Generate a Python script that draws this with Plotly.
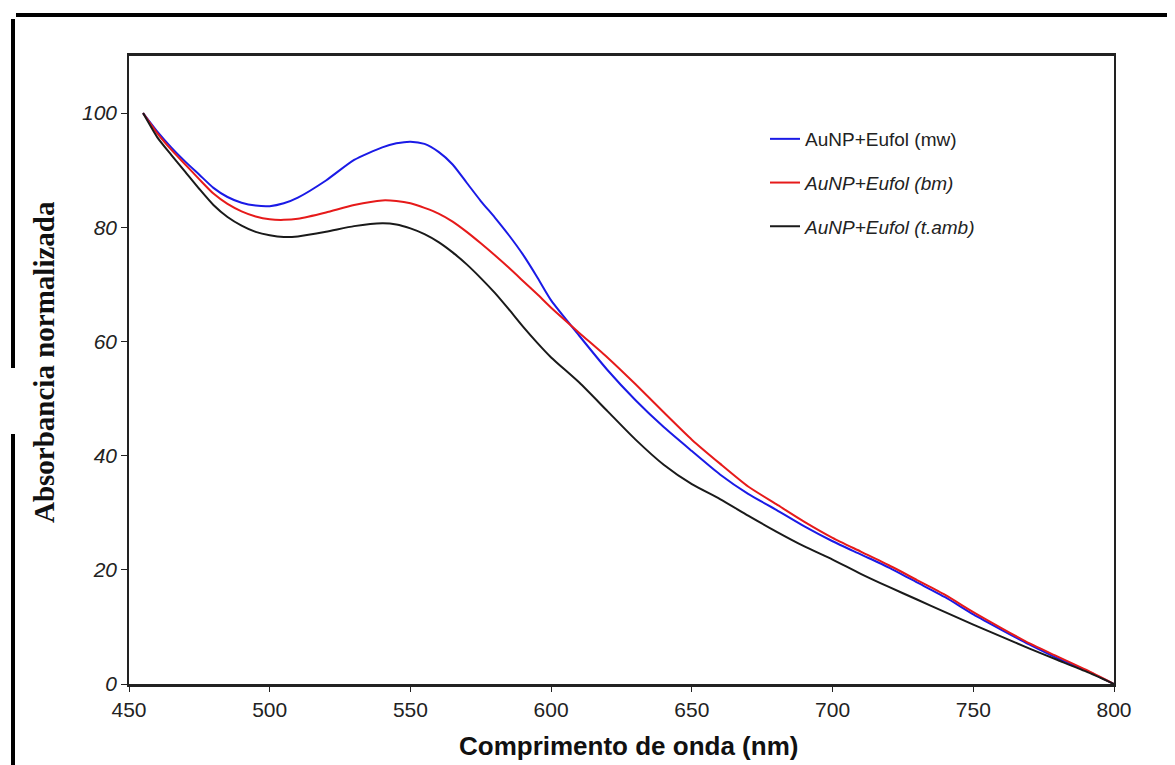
import plotly.graph_objects as go

wavelength = [455, 460, 465, 470, 475, 480, 485, 490, 495, 500, 505, 510, 520, 530, 540, 545,
              550, 555, 560, 565, 570, 575, 580, 585, 590, 595, 600, 610, 620, 630, 640, 650,
              660, 670, 680, 690, 700, 710, 720, 730, 740, 750, 760, 770, 780, 790, 800]

mw = [100, 96.8, 94.0, 91.5, 89.2, 86.9, 85.3, 84.3, 83.8, 83.7, 84.2, 85.2, 88.2, 91.8, 94.0, 94.7,
      95.0, 94.6, 93.2, 91.0, 87.8, 84.6, 81.7, 78.6, 75.2, 71.3, 67.2, 61.0, 55.0, 49.7, 45.0, 40.8,
      36.7, 33.3, 30.5, 27.6, 25.0, 22.7, 20.4, 17.8, 15.2, 12.2, 9.5, 6.9, 4.5, 2.4, 0]

bm = [100, 96.5, 93.6, 91.0, 88.4, 85.9, 84.1, 82.8, 81.9, 81.4, 81.3, 81.5, 82.6, 83.9, 84.7, 84.6,
      84.2, 83.4, 82.4, 81.0, 79.2, 77.2, 75.1, 72.9, 70.6, 68.3, 65.9, 61.5, 57.2, 52.5, 47.6, 42.8,
      38.6, 34.6, 31.5, 28.4, 25.6, 23.2, 20.8, 18.2, 15.6, 12.6, 9.8, 7.1, 4.8, 2.5, 0]

tamb = [100, 95.8, 92.7, 89.7, 86.7, 83.9, 81.8, 80.3, 79.2, 78.6, 78.3, 78.4, 79.2, 80.2, 80.7, 80.5,
        79.8, 78.8, 77.4, 75.6, 73.5, 71.1, 68.5, 65.6, 62.6, 59.8, 57.2, 52.8, 47.8, 42.8, 38.4, 35.0,
        32.4, 29.5, 26.7, 24.1, 21.8, 19.3, 17.0, 14.8, 12.6, 10.4, 8.3, 6.2, 4.2, 2.2, 0]

series_names = ["AuNP+Eufol (mw)", "<i>AuNP+Eufol (bm)</i>", "<i>AuNP+Eufol (t.amb)</i>"]
series_colors = ["#1a1ae6", "#e61a1a", "#1a1a1a"]
x_ticks = [450, 500, 550, 600, 650, 700, 750, 800]
y_ticks = [0, 20, 40, 60, 80, 100]

fig = go.Figure()
for i, (name, ys, col) in enumerate(zip(series_names, [mw, bm, tamb], series_colors)):
    fig.add_trace(go.Scatter(x=wavelength, y=ys, mode="lines", name=name,
                             legendgroup=str(i),
                             line=dict(color=col, width=2, shape="spline", smoothing=0.6)))

W, H = 1175, 765
OFF = 7  # page offset of the figure
PL, PR, PT, PB = 128, 1113, 55, 683  # plot area in page pixels
pw, ph = PR - PL, PB - PT
ml, mt = PL - OFF, PT - OFF
mr = W - ml - pw
mb = H - mt - ph


def px(x):
    return (x - PL) / pw


def py(y):
    return (PB - y) / ph


fig.update_layout(
    width=W, height=H,
    margin=dict(l=ml, r=mr, t=mt, b=mb, pad=0),
    paper_bgcolor="white", plot_bgcolor="white",
    showlegend=True,
    legend=dict(x=px(764), y=py(119), xanchor="left", yanchor="top",
                bgcolor="rgba(0,0,0,0)", tracegroupgap=16,
                font=dict(family="Liberation Sans", size=19, color="#222"),
                itemwidth=30),
    xaxis=dict(range=[450, 800], tickvals=x_ticks, ticktext=[str(v) for v in x_ticks],
               showgrid=False, zeroline=False, showline=True, linecolor="#222", linewidth=3,
               mirror=True, ticks="outside", ticklen=5, tickcolor="#222",
               tickfont=dict(family="Liberation Sans", size=21, color="#222")),
    yaxis=dict(range=[0, 110], tickvals=y_ticks, ticktext=[str(v) for v in y_ticks],
               showgrid=False, zeroline=False, showline=True, linecolor="#222", linewidth=1.5,
               mirror=True, ticks="outside", ticklen=6, tickcolor="#222",
               tickfont=dict(family="Liberation Sans", size=21, color="#222", style="italic")),
    annotations=[
        dict(text="<b>Comprimento de onda (nm)</b>", x=px(627), y=py(745), xref="paper", yref="paper",
             showarrow=False, xanchor="center", yanchor="middle",
             font=dict(family="Liberation Sans", size=26, color="#111")),
        dict(text="<b>Absorbancia normalizada</b>", x=px(43), y=py(361), xref="paper", yref="paper",
             showarrow=False, xanchor="center", yanchor="middle", textangle=-90,
             font=dict(family="Liberation Serif", size=29, color="#111")),
    ],
    shapes=[
        dict(type="line", xref="paper", yref="paper", x0=px(15), x1=px(1180), y0=py(14), y1=py(14),
             line=dict(color="black", width=4)),
        dict(type="line", xref="paper", yref="paper", x0=px(12), x1=px(12), y0=py(18), y1=py(367),
             line=dict(color="black", width=4)),
        dict(type="line", xref="paper", yref="paper", x0=px(12), x1=px(12), y0=py(433), y1=py(765),
             line=dict(color="black", width=4)),
    ],
)

fig.write_html("out.html")
